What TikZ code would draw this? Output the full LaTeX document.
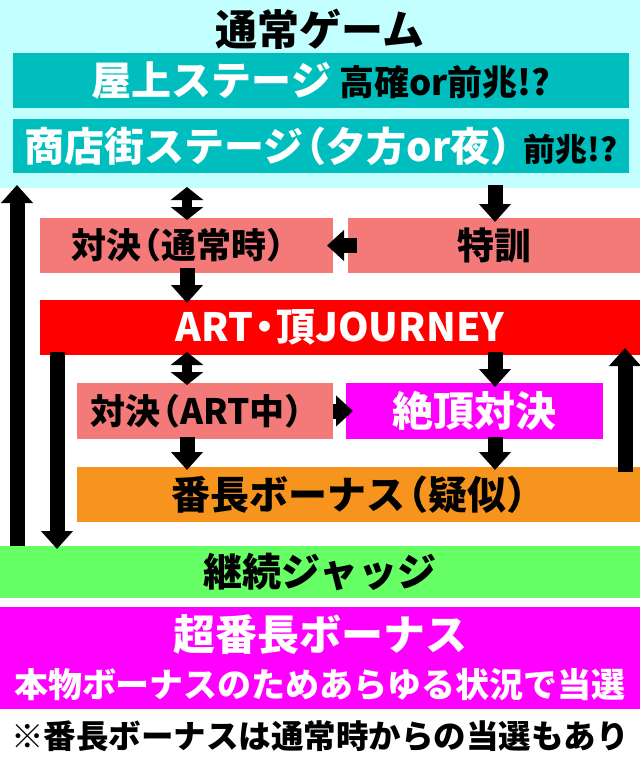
\documentclass[tikz,border=0pt]{standalone}
\usepackage{fontspec}
\setmainfont{Noto Sans CJK JP}[BoldFont={Noto Sans CJK JP Black}]
\usetikzlibrary{arrows.meta,calc}
\definecolor{bgcyan}{RGB}{195,255,255}
\definecolor{teal2}{RGB}{0,190,190}
\definecolor{salmon2}{RGB}{244,122,122}
\definecolor{red2}{RGB}{255,0,0}
\definecolor{mag2}{RGB}{255,0,255}
\definecolor{orange2}{RGB}{247,148,30}
\definecolor{green2}{RGB}{102,255,102}
\newcommand{\fs}[1]{\fontsize{#1}{#1}\selectfont}
\newcommand{\lpar}{\hspace{-0.42em}（}
\newcommand{\rpar}{）\hspace{-0.42em}}
\tikzset{
  box/.style={rectangle,inner sep=0pt,outer sep=0pt,draw=none,font=\bfseries},
  blk/.style={line width=15pt,-{Triangle[width=31pt,length=18pt]}},
  hblk/.style={line width=15pt,-{Triangle[width=30pt,length=17pt]}},
  dbl/.style={line width=10pt,{Triangle[width=32pt,length=13pt]}-{Triangle[width=32pt,length=13pt]}},
}
\begin{document}
\begin{tikzpicture}[x=1pt,y=-1pt]
\useasboundingbox (0,0) rectangle (640,761);
\fill[white] (0,0) rectangle (640,761);
% background cyan
\node[box,fill=bgcyan,minimum width=640pt,minimum height=188pt,anchor=north west] (bg) at (0,0) {};
\node[box,font=\bfseries\fs{42}] (title) at (320,29) {通常ゲーム};
\node[box,fill=teal2,minimum width=616pt,minimum height=55pt] (roof) at (321,80.5)
  {{\color{white}\fs{40}屋上ステージ}\hspace{8pt}{\fs{35}高確or前兆!?}};
\node[box,fill=teal2,minimum width=616pt,minimum height=54pt] (shop) at (321,146)
  {{\color{white}\fs{40}商店街ステージ\lpar 夕方or夜\rpar}\hspace{10pt}{\fs{32}前兆!?}};
% row 1
\node[box,fill=salmon2,minimum width=293pt,minimum height=55pt,font=\bfseries\fs{35}] (duel1) at (186.5,245.5) {対決\lpar 通常時\rpar};
\node[box,fill=salmon2,minimum width=292pt,minimum height=55pt,font=\bfseries\fs{37}] (toku) at (494,245.5) {特訓};
% ART
\node[box,fill=red2,minimum width=600pt,minimum height=55pt,font=\bfseries\fs{39},text=white] (art) at (340,327.5) {ART\hspace{-0.2em}・\hspace{-0.2em}頂JOURNEY};
% row 3
\node[box,fill=salmon2,minimum width=256pt,minimum height=56pt,font=\bfseries\fs{35}] (duel2) at (205,411) {対決\lpar ART中\rpar};
\node[box,fill=mag2,minimum width=257pt,minimum height=56pt,font=\bfseries\fs{41},text=white] (zet) at (474.5,411) {絶頂対決};
% bonus
\node[box,fill=orange2,minimum width=563pt,minimum height=55pt,font=\bfseries\fs{39}] (bonus) at (358.5,494.5) {番長ボーナス\lpar 疑似\rpar};
% judge
\node[box,fill=green2,minimum width=640pt,minimum height=52pt,font=\bfseries\fs{39}] (judge) at (320,572) {継続ジャッジ};
% super
\node[box,fill=mag2,minimum width=640pt,minimum height=102pt] (super) at (320,658) {};
\node[box,font=\bfseries\fs{42},text=white] (sup1) at (320,635) {超番長ボーナス};
\node[box,font=\bfseries\fs{34},text=white] (sup2) at (320,685) {本物ボーナスのためあらゆる状況で当選};
\node[box,font=\bfseries\fs{32.5}] (foot) at (320,736) {※番長ボーナスは通常時からの当選もあり};
% columns
\coordinate (cA) at (187,0);
\coordinate (cB) at (495,0);
\coordinate (cL) at (17,0);
\coordinate (cI) at (57,0);
\coordinate (cR) at (625,0);
% arrows
\draw[blk] (judge.north -| cL) -- ([yshift=3pt]bg.south -| cL);
\draw[dbl] ([yshift=1pt]bg.south -| cA) -- ([yshift=-2pt]duel1.north -| cA);
\draw[blk] ([yshift=3pt]bg.south -| cB) -- ([yshift=-4pt]toku.north -| cB);
\draw[hblk] ([xshift=9pt]toku.west) -- ([xshift=-6pt]duel1.east);
\draw[blk] ([yshift=5pt]duel1.south -| cA) -- ([yshift=-3pt]art.north -| cA);
\draw[blk] ([yshift=3pt]art.south -| cI) -- ([yshift=-3pt]judge.north -| cI);
\draw[dbl] ([yshift=3pt]art.south -| cA) -- ([yshift=-2pt]duel2.north -| cA);
\draw[blk] ([yshift=3pt]art.south -| cB) -- ([yshift=-4pt]zet.north -| cB);
\draw[hblk] (duel2.east) -- ([xshift=7pt]zet.west);
\draw[blk] ([yshift=2pt]duel2.south -| cA) -- ([yshift=-3pt]bonus.north -| cA);
\draw[blk] ([yshift=2pt]zet.south -| cB) -- ([yshift=-3pt]bonus.north -| cB);
\draw[blk] ([yshift=-5pt]bonus.north -| cR) -- ([yshift=7pt]art.south -| cR);
\end{tikzpicture}
\end{document}
